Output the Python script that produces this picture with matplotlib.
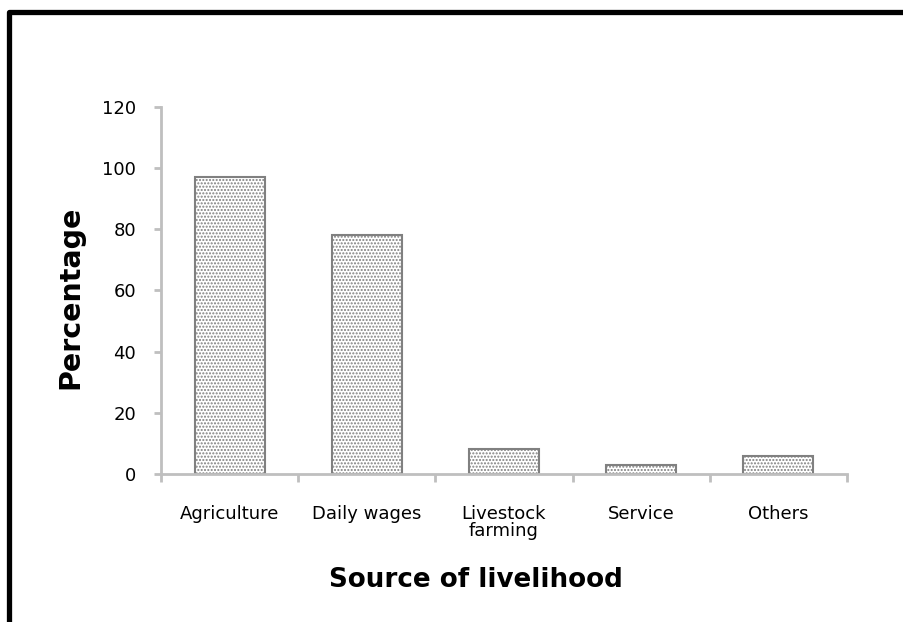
import numpy as np
import matplotlib.pyplot as plt
from matplotlib.lines import Line2D

# Data
categories = ['Agriculture', 'Daily wages', 'Livestock\nfarming', 'Service', 'Others']
percentages = [97, 78, 8, 3, 6]
y_ticks = [0, 20, 40, 60, 80, 100, 120]

plt.rcParams['font.family'] = ['DejaVu Sans']
plt.rcParams['hatch.linewidth'] = 1.0

fig = plt.figure(figsize=(9.04, 6.22), dpi=100)
ax = fig.add_axes([0.178, 0.238, 0.759, 0.590])

x = np.arange(len(categories))
ax.bar(x, percentages, width=0.51, color='white', edgecolor='#808080',
       linewidth=1.5, hatch='.....')

ax.set_xlim(-0.5, len(categories) - 0.5)
ax.set_ylim(0, 120)
ax.set_yticks(y_ticks)
ax.set_xticks(x)
ax.set_xticklabels(categories, fontsize=13, linespacing=0.95)
ax.tick_params(axis='y', labelsize=13, length=5, width=2, color='#bfbfbf', pad=13)
ax.tick_params(axis='x', length=0, pad=22)
# category boundary ticks on the x axis
ax.set_xticks(np.arange(len(categories) + 1) - 0.5, minor=True)
ax.tick_params(axis='x', which='minor', length=6, width=2, color='#bfbfbf', direction='out')

for side in ['top', 'right']:
    ax.spines[side].set_visible(False)
for side in ['left', 'bottom']:
    ax.spines[side].set_color('#bfbfbf')
    ax.spines[side].set_linewidth(2)

fig.text(0.078, 0.522, 'Percentage', rotation=90, fontsize=20.5, fontweight='bold',
         ha='center', va='center')
fig.text(0.527, 0.067, 'Source of livelihood', fontsize=18.8, fontweight='bold',
         ha='center', va='center')

# black frame on left and top
fig.add_artist(Line2D([0.0105, 0.0105, 1.0], [0.0, 0.981, 0.981], transform=fig.transFigure,
                      color='black', linewidth=3.8, solid_joinstyle='round'))

fig.savefig('out.png', dpi=100)
